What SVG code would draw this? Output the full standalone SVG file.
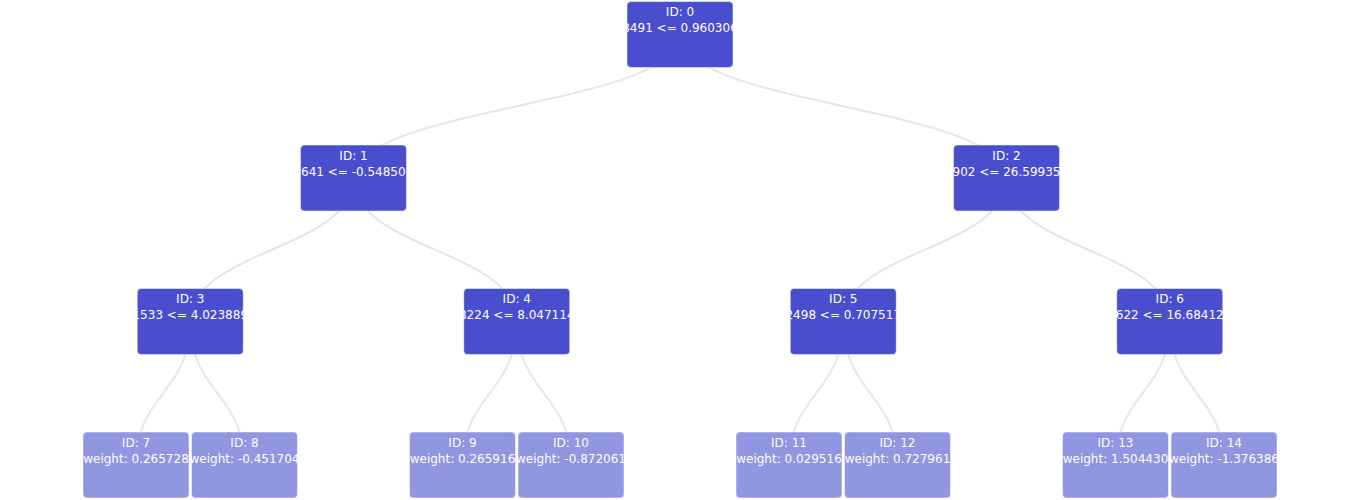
<svg xmlns="http://www.w3.org/2000/svg" width="1360" height="500" viewBox="0 0 1360 500">
  <style>
    .edge { fill: none; stroke: #e6e4ec; stroke-width: 2; }
    .box { stroke: #ffffff; stroke-opacity: 0.5; stroke-width: 1; }
    .split { fill: #494ecf; }
    .leaf { fill: #9196e0; }
    text { font-family: "DejaVu Sans", Verdana, sans-serif; font-size: 12px; fill: #ffffff; }
    .c { text-anchor: middle; }
  </style>

  <!-- connectors: vertical links between node centres, drawn under the boxes -->
  <g id="links">
    <path class="edge" d="M680,34.5 C680,106.25 353.5,106.25 353.5,178"/>
    <path class="edge" d="M680,34.5 C680,106.25 1006.5,106.25 1006.5,178"/>
    <path class="edge" d="M353.5,178 C353.5,249.75 190.25,249.75 190.25,321.5"/>
    <path class="edge" d="M353.5,178 C353.5,249.75 516.75,249.75 516.75,321.5"/>
    <path class="edge" d="M1006.5,178 C1006.5,249.75 843.25,249.75 843.25,321.5"/>
    <path class="edge" d="M1006.5,178 C1006.5,249.75 1169.75,249.75 1169.75,321.5"/>
    <path class="edge" d="M190.25,321.5 C190.25,393.25 136,393.25 136,465"/>
    <path class="edge" d="M190.25,321.5 C190.25,393.25 244.5,393.25 244.5,465"/>
    <path class="edge" d="M516.75,321.5 C516.75,393.25 462.5,393.25 462.5,465"/>
    <path class="edge" d="M516.75,321.5 C516.75,393.25 571,393.25 571,465"/>
    <path class="edge" d="M843.25,321.5 C843.25,393.25 789,393.25 789,465"/>
    <path class="edge" d="M843.25,321.5 C843.25,393.25 897.5,393.25 897.5,465"/>
    <path class="edge" d="M1169.75,321.5 C1169.75,393.25 1115.5,393.25 1115.5,465"/>
    <path class="edge" d="M1169.75,321.5 C1169.75,393.25 1224,393.25 1224,465"/>
  </g>

  <!-- split nodes (each box clips its own labels) -->
  <g id="node-0">
    <svg x="626.5" y="1" width="107" height="67">
      <rect class="box split" x="0.5" y="0.5" width="106" height="66" rx="4"/>
      <text class="c" x="53.5" y="15">ID: 0</text>
      <text class="c" x="53.5" y="31">8491 &lt;= 0.960306</text>
    </svg>
  </g>
  <g id="node-1">
    <svg x="300" y="144.5" width="107" height="67">
      <rect class="box split" x="0.5" y="0.5" width="106" height="66" rx="4"/>
      <text class="c" x="53.5" y="15">ID: 1</text>
      <text x="1" y="31">641 &lt;= -0.54850</text>
    </svg>
  </g>
  <g id="node-2">
    <svg x="953" y="144.5" width="107" height="67">
      <rect class="box split" x="0.5" y="0.5" width="106" height="66" rx="4"/>
      <text class="c" x="53.5" y="15">ID: 2</text>
      <text class="c" x="53.5" y="31">902 &lt;= 26.59935</text>
    </svg>
  </g>
  <g id="node-3">
    <svg x="136.75" y="288" width="107" height="67">
      <rect class="box split" x="0.5" y="0.5" width="106" height="66" rx="4"/>
      <text class="c" x="53.5" y="15">ID: 3</text>
      <text class="c" x="53.5" y="31">1533 &lt;= 4.023889</text>
    </svg>
  </g>
  <g id="node-4">
    <svg x="463.25" y="288" width="107" height="67">
      <rect class="box split" x="0.5" y="0.5" width="106" height="66" rx="4"/>
      <text class="c" x="53.5" y="15">ID: 4</text>
      <text class="c" x="53.5" y="31">8224 &lt;= 8.047114</text>
    </svg>
  </g>
  <g id="node-5">
    <svg x="789.75" y="288" width="107" height="67">
      <rect class="box split" x="0.5" y="0.5" width="106" height="66" rx="4"/>
      <text class="c" x="53.5" y="15">ID: 5</text>
      <text class="c" x="53.5" y="31">2498 &lt;= 0.707517</text>
    </svg>
  </g>
  <g id="node-6">
    <svg x="1116.25" y="288" width="107" height="67">
      <rect class="box split" x="0.5" y="0.5" width="106" height="66" rx="4"/>
      <text class="c" x="53.5" y="15">ID: 6</text>
      <text class="c" x="53.5" y="31">622 &lt;= 16.68412</text>
    </svg>
  </g>

  <!-- leaf nodes -->
  <g id="node-7">
    <svg x="82.5" y="431.5" width="107" height="67">
      <rect class="box leaf" x="0.5" y="0.5" width="106" height="66" rx="4"/>
      <text class="c" x="53.5" y="15">ID: 7</text>
      <text class="c" x="53.5" y="31">weight: 0.265728</text>
    </svg>
  </g>
  <g id="node-8">
    <svg x="191" y="431.5" width="107" height="67">
      <rect class="box leaf" x="0.5" y="0.5" width="106" height="66" rx="4"/>
      <text class="c" x="53.5" y="15">ID: 8</text>
      <text class="c" x="53.5" y="31">weight: -0.451704</text>
    </svg>
  </g>
  <g id="node-9">
    <svg x="409" y="431.5" width="107" height="67">
      <rect class="box leaf" x="0.5" y="0.5" width="106" height="66" rx="4"/>
      <text class="c" x="53.5" y="15">ID: 9</text>
      <text class="c" x="53.5" y="31">weight: 0.265916</text>
    </svg>
  </g>
  <g id="node-10">
    <svg x="517.5" y="431.5" width="107" height="67">
      <rect class="box leaf" x="0.5" y="0.5" width="106" height="66" rx="4"/>
      <text class="c" x="53.5" y="15">ID: 10</text>
      <text class="c" x="53.5" y="31">weight: -0.872061</text>
    </svg>
  </g>
  <g id="node-11">
    <svg x="735.5" y="431.5" width="107" height="67">
      <rect class="box leaf" x="0.5" y="0.5" width="106" height="66" rx="4"/>
      <text class="c" x="53.5" y="15">ID: 11</text>
      <text class="c" x="53.5" y="31">weight: 0.029516</text>
    </svg>
  </g>
  <g id="node-12">
    <svg x="844" y="431.5" width="107" height="67">
      <rect class="box leaf" x="0.5" y="0.5" width="106" height="66" rx="4"/>
      <text class="c" x="53.5" y="15">ID: 12</text>
      <text class="c" x="53.5" y="31">weight: 0.727961</text>
    </svg>
  </g>
  <g id="node-13">
    <svg x="1062" y="431.5" width="107" height="67">
      <rect class="box leaf" x="0.5" y="0.5" width="106" height="66" rx="4"/>
      <text class="c" x="53.5" y="15">ID: 13</text>
      <text class="c" x="53.5" y="31">weight: 1.504430</text>
    </svg>
  </g>
  <g id="node-14">
    <svg x="1170.5" y="431.5" width="107" height="67">
      <rect class="box leaf" x="0.5" y="0.5" width="106" height="66" rx="4"/>
      <text class="c" x="53.5" y="15">ID: 14</text>
      <text class="c" x="53.5" y="31">weight: -1.376386</text>
    </svg>
  </g>
</svg>
